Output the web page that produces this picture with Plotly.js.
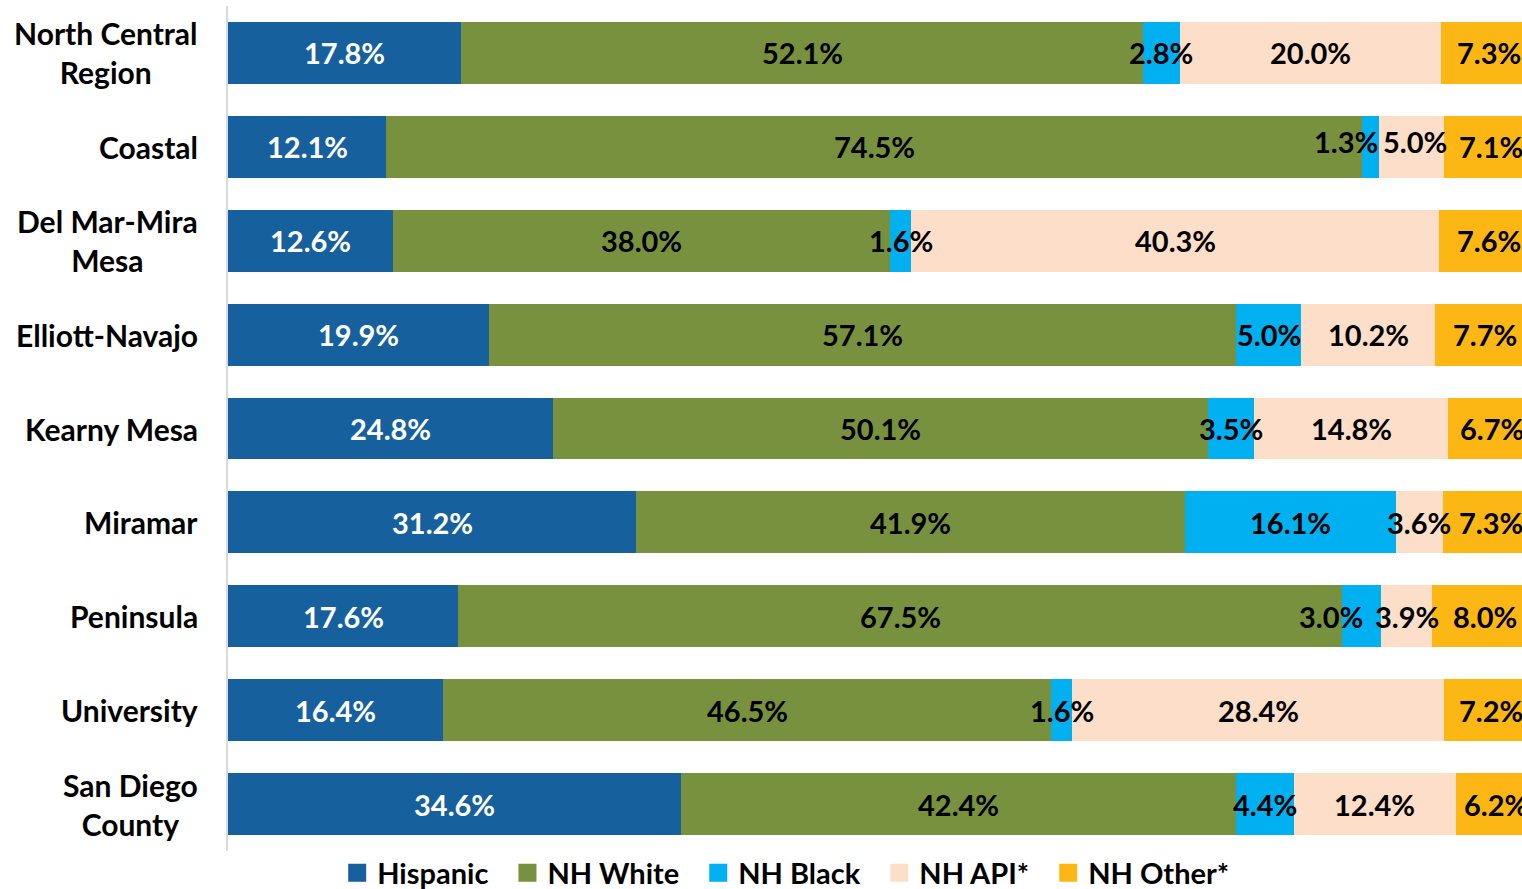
<!DOCTYPE html>
<html>
<head>
<meta charset="utf-8">
<script src="https://cdn.plot.ly/plotly-3.0.1.min.js"></script>
<style>html,body{margin:0;padding:0;background:#fff;}#chart{width:1522px;height:889px;}</style>
</head>
<body>
<div id="chart"></div>
<script>
const categories = ["North Central<br>Region", "Coastal", "Del Mar-Mira<br>Mesa", "Elliott-Navajo", "Kearny Mesa", "Miramar", "Peninsula", "University", "San Diego<br>County"];
const hispanic = [17.8, 12.1, 12.6, 19.9, 24.8, 31.2, 17.6, 16.4, 34.6];
const nhWhite  = [52.1, 74.5, 38.0, 57.1, 50.1, 41.9, 67.5, 46.5, 42.4];
const nhBlack  = [2.8, 1.3, 1.6, 5.0, 3.5, 16.1, 3.0, 1.6, 4.4];
const nhApi    = [20.0, 5.0, 40.3, 10.2, 14.8, 3.6, 3.9, 28.4, 12.4];
const nhOther  = [7.3, 7.1, 7.6, 7.7, 6.7, 7.3, 8.0, 7.2, 6.2];
const seriesNames = ["Hispanic", "NH White", "NH Black", "NH API*", "NH Other*"];

const FONT = "Lato, 'Open Sans', sans-serif";
const colors = ["#17609E", "#77913F", "#00B0F0", "#FDDFC9", "#FDB714"];
const textColors = ["#ffffff", "#000000", "#000000", "#000000", "#000000"];
const values = [hispanic, nhWhite, nhBlack, nhApi, nhOther];
// manual label nudges (pixels) for crowded segments, keyed "series,category"
const labelNudge = {"2,1": [-24, 5], "3,1": [4, 5], "2,6": [-31, 0]};

const traces = [];
values.forEach((v, i) => {
  traces.push({
    type: "bar",
    orientation: "h",
    name: seriesNames[i],
    x: v,
    y: categories,
    marker: {color: colors[i], line: {width: 0}},
    showlegend: false,
    hoverinfo: "skip"
  });
});
// legend entries with square symbols
seriesNames.forEach((n, i) => {
  traces.push({
    type: "scatter",
    mode: "markers",
    name: i < seriesNames.length - 1 ? n + "\u00A0\u00A0" : n,
    x: [null],
    y: [null],
    marker: {symbol: "square", size: 16, color: colors[i], line: {width: 2, color: colors[i]}},
    showlegend: true,
    hoverinfo: "skip"
  });
});

const annotations = categories.map(c => ({
  xref: "paper", yref: "y",
  x: 0, y: c,
  xanchor: "right", yanchor: "middle",
  xshift: -28,
  align: "center",
  text: "<b>" + c + "</b>",
  showarrow: false,
  font: {family: FONT, size: 30, color: "#000000"}
}));

// data labels centred on each stacked segment, drawn above all bars
const base = categories.map(() => 0);
values.forEach((v, i) => {
  v.forEach((val, k) => {
    const mid = base[k] + val / 2;
    base[k] += val;
    const nudge = labelNudge[i + "," + k] || [0, 0];
    annotations.push({
      xref: "x", yref: "y",
      x: mid, y: categories[k],
      xanchor: "center", yanchor: "middle",
      xshift: nudge[0], yshift: nudge[1],
      text: "<b>" + val.toFixed(1) + "%</b>",
      showarrow: false,
      font: {family: FONT, size: 29, color: textColors[i]}
    });
  });
});

const layout = {
  width: 1522, height: 889,
  margin: {l: 228, r: 0, t: 6, b: 38, autoexpand: false},
  paper_bgcolor: "#ffffff",
  plot_bgcolor: "#ffffff",
  barmode: "stack",
  bargap: 0.34,
  showlegend: true,
  legend: {
    orientation: "h",
    x: 0.431, xanchor: "center",
    y: -0.026, yanchor: "middle",
    font: {family: FONT, size: 29, color: "#000000", weight: "bold"},
    itemsizing: "trace",
    itemwidth: 30,
    traceorder: "normal",
    bgcolor: "rgba(0,0,0,0)"
  },
  xaxis: {
    range: [0, 98.85],
    showgrid: false, zeroline: false, showticklabels: false, ticks: "",
    showline: false, fixedrange: true
  },
  yaxis: {
    autorange: "reversed",
    showgrid: false, zeroline: false, showticklabels: false, ticks: "",
    showline: true, linecolor: "#D9D9D9", linewidth: 2,
    fixedrange: true
  },
  annotations: annotations
};

Plotly.newPlot("chart", traces, layout, {displayModeBar: false, staticPlot: true});
</script>
</body>
</html>
